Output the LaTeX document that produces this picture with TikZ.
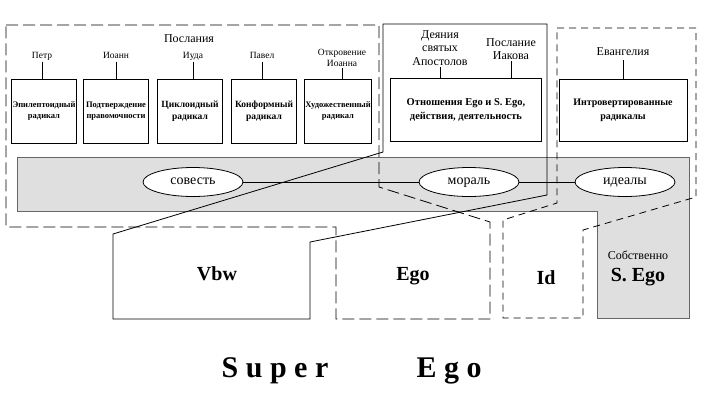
\documentclass[tikz,border=0pt]{standalone}
\usepackage{fontspec}
\setmainfont{Liberation Serif}
\usepackage{tikz}
\usetikzlibrary{calc}
\usetikzlibrary{shapes.geometric}

\tikzset{
  radbox/.style={draw, line width=0.8pt, minimum width=65pt, minimum height=64pt, inner sep=1pt, align=center, font=\bfseries\fontsize{8.5}{11.5}\selectfont},
  booklbl/.style={font=\fontsize{9.5}{11}\selectfont, align=center, inner sep=1pt},
  biglbl/.style={font=\fontsize{12}{13.5}\selectfont, align=center, inner sep=1pt},
  onerow/.style={text height=6.5pt, text depth=2pt},
  valoval/.style={ellipse, draw, line width=0.8pt, fill=white, minimum width=100pt, minimum height=29pt, inner sep=0pt, text height=7pt, text depth=3pt, font=\fontsize{14}{16}\selectfont},
  partlbl/.style={anchor=base, font=\bfseries\fontsize{20}{22}\selectfont, inner sep=0pt},
  longdash/.style={line width=0.8pt, dash pattern=on 12pt off 5pt},
  shortdash/.style={line width=0.8pt, dash pattern=on 7pt off 5pt},
}

\begin{document}
\begin{tikzpicture}[x=1pt, y=-1pt, line width=0.8pt]
        \newcommand{\segorowy}{111}
        \newcommand{\segolbly}{56}
        \useasboundingbox (0,0) rectangle (706,413);
        % gray band and S. Ego
        \filldraw[fill=gray!25, draw=black!60] (17,157) -- (689,157) -- (689,318) -- (597,318) -- (597,211) -- (17,211) -- cycle;
        % outlines
        \draw[longdash] (6,25) -- (379,25) -- (379,187) -- (490,222) -- (490,319) -- (336,319) -- (336,227) -- (6,227) -- cycle;
        \draw (383,24) -- (547,24) -- (547,195) -- (310,242) -- (310,319) -- (113,319) -- (113,234) -- (383,152) -- cycle;
        \draw[shortdash] (557,28) -- (696,28) -- (696,197) -- (583,230) -- (583,318) -- (503,318) -- (503,220) -- (557,203) -- cycle;
        % Послания
        \node[biglbl, anchor=base] (poslania) at (189,42) {Послания};
        \node[radbox] (b1) at (44,\segorowy) {Эпилептоидный\\радикал};
        \node[radbox] (b2) at (116,\segorowy) {Подтверждение\\правомочности};
        \node[radbox, font=\bfseries\fontsize{9.5}{12}\selectfont] (b3) at (190,\segorowy) {Циклоидный\\радикал};
        \node[radbox, font=\bfseries\fontsize{9.5}{12}\selectfont] (b4) at (264,\segorowy) {Конформный\\радикал};
        \node[radbox] (b5) at (338,\segorowy) {Художественный\\радикал};
        \node[booklbl, onerow] (petr) at (42,\segolbly) {Петр};
        \node[booklbl, onerow] (ioann) at (116,\segolbly) {Иоанн};
        \node[booklbl, onerow] (iuda) at (193,\segolbly) {Иуда};
        \node[booklbl, onerow] (pavel) at (262,\segolbly) {Павел};
        \node[booklbl] (otkr) at (342,58) {Откровение\\Иоанна};
        \draw (petr.south) -- (petr.south |- b1.north);
        \draw (ioann.south) -- (ioann.south |- b2.north);
        \draw (iuda.south) -- (iuda.south |- b3.north);
        \draw (pavel.south) -- (pavel.south |- b4.north);
        \draw (otkr.south) -- (otkr.south |- b5.north);
        % Деяния, Послание Иакова
        \node[radbox, minimum width=151pt, minimum height=63pt, font=\bfseries\fontsize{10.5}{14}\selectfont] (acts) at (466,110) {Отношения Ego и S. Ego,\\действия, деятельность};
        \node[biglbl] (deyan) at (440,48) {Деяния\\святых\\Апостолов};
        \node[biglbl] (iakov) at (511,49) {Послание\\Иакова};
        \draw (deyan.south) -- (deyan.south |- acts.north);
        \draw (iakov.south) -- (iakov.south |- acts.north);
        % Евангелия
        \node[radbox, minimum width=128pt, minimum height=62pt, font=\bfseries\fontsize{10}{14}\selectfont] (intro) at (623,110) {Интровертированные\\радикалы};
        \node[biglbl, text height=8.5pt, text depth=3pt] (evang) at (623,53) {Евангелия};
        \draw (evang.south) -- (intro.north);
        % values
        \node[valoval] (sovest) at (193,182) {совесть};
        \node[valoval] (moral) at (469,182) {мораль};
        \node[valoval] (ideal) at (625,182) {идеалы};
        \draw (sovest) -- (moral);
        \draw (moral) -- (ideal);
        % parts
        \node[partlbl] (vbw) at (217,280) {Vbw};
        \node[partlbl] (ego) at (413,280) {Ego};
        \node[partlbl] (id) at (546,284) {Id};
        \node[font=\fontsize{12}{13}\selectfont, inner sep=0pt, anchor=base] (sobstv) at (638,259) {Собственно};
        \node[partlbl] (sego) at (638,281) {S. Ego};
        \node[anchor=base, inner sep=0pt, font=\bfseries\fontsize{30}{32}\selectfont] (super) at (275,377) {S u p e r};
        \node[anchor=base, inner sep=0pt, font=\bfseries\fontsize{30}{32}\selectfont] (superego) at (449,377) {E g o};
    \end{tikzpicture}
\end{document}
